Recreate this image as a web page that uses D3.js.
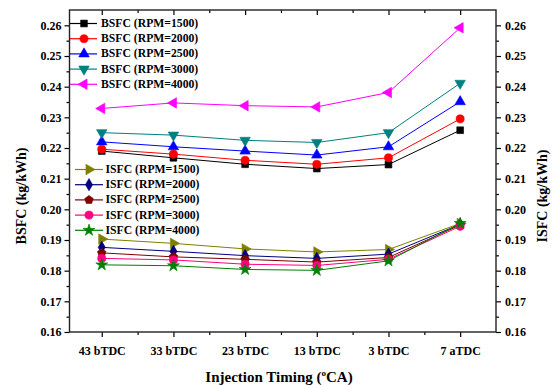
<!DOCTYPE html>
<html><head><meta charset="utf-8">
<script src="https://cdn.jsdelivr.net/npm/d3@7"></script>
<style>body{margin:0;background:#fff}svg{display:block}text{font-family:"Liberation Serif","Times New Roman",serif;font-weight:bold;fill:#000}</style>
</head><body><svg id="c" width="552" height="385"></svg>
<script>
const categories = ["43 bTDC","33 bTDC","23 bTDC","13 bTDC","3 bTDC","7 aTDC"];
const yTicks = [0.16,0.17,0.18,0.19,0.20,0.21,0.22,0.23,0.24,0.25,0.26];
const bsfc1500 = [0.2190,0.2168,0.2147,0.2133,0.2146,0.2258];
const bsfc2000 = [0.2196,0.2180,0.2160,0.2147,0.2168,0.2295];
const bsfc2500 = [0.2220,0.2204,0.2190,0.2177,0.2204,0.2351];
const bsfc3000 = [0.2250,0.2242,0.2225,0.2218,0.2250,0.2411];
const bsfc4000 = [0.2329,0.2347,0.2338,0.2334,0.2381,0.2592];
const isfc1500 = [0.1903,0.1889,0.1871,0.1861,0.1869,0.1954];
const isfc2000 = [0.1876,0.1863,0.1849,0.1840,0.1854,0.1951];
const isfc2500 = [0.1858,0.1845,0.1837,0.1828,0.1843,0.1949];
const isfc3000 = [0.1840,0.1835,0.1821,0.1817,0.1837,0.1945];
const isfc4000 = [0.1819,0.1816,0.1804,0.1801,0.1832,0.1954];
const bsfcNames = ["BSFC (RPM=1500)","BSFC (RPM=2000)","BSFC (RPM=2500)","BSFC (RPM=3000)","BSFC (RPM=4000)"];
const isfcNames = ["ISFC (RPM=1500)","ISFC (RPM=2000)","ISFC (RPM=2500)","ISFC (RPM=3000)","ISFC (RPM=4000)"];

const svg = d3.select("#c");
const L=69.5, R=496, T=10, B=332;
const x = d3.scaleLinear().domain([-0.45,5.5]).range([L,R]);
const y = d3.scaleLinear().domain([0.16,0.265]).range([B,T]);

const pentagon = {draw(ctx,size){const r=Math.sqrt(size/2.378);for(let i=0;i<5;i++){const a=-Math.PI/2+i*2*Math.PI/5;const px=r*Math.cos(a),py=r*Math.sin(a);i?ctx.lineTo(px,py):ctx.moveTo(px,py);}ctx.closePath();}};

const series = [
 {name:bsfcNames[0],vals:bsfc1500,color:"#000000",sym:d3.symbolSquare,size:46,rot:0},
 {name:bsfcNames[1],vals:bsfc2000,color:"#FF0000",sym:d3.symbolCircle,size:52,rot:0},
 {name:bsfcNames[2],vals:bsfc2500,color:"#0000FF",sym:d3.symbolTriangle,size:48,rot:0},
 {name:bsfcNames[3],vals:bsfc3000,color:"#008080",sym:d3.symbolTriangle,size:48,rot:180},
 {name:bsfcNames[4],vals:bsfc4000,color:"#FF00FF",sym:d3.symbolTriangle,size:48,rot:-90},
 {name:isfcNames[0],vals:isfc1500,color:"#808000",sym:d3.symbolTriangle,size:48,rot:90},
 {name:isfcNames[1],vals:isfc2000,color:"#000080",sym:d3.symbolDiamond,size:44,rot:0},
 {name:isfcNames[2],vals:isfc2500,color:"#800000",sym:pentagon,size:48,rot:0},
 {name:isfcNames[3],vals:isfc3000,color:"#FF0080",sym:d3.symbolCircle,size:52,rot:0},
 {name:isfcNames[4],vals:isfc4000,color:"#008000",sym:d3.symbolStar,size:44,rot:0}
];

// axes
const yMinor = d3.range(0.165,0.265,0.01);
const g = svg.append("g");
// left
g.append("g").attr("transform",`translate(${L},0)`).call(d3.axisLeft(y).tickValues(yMinor).tickSize(3).tickFormat("")).call(a=>a.select(".domain").remove());
g.append("g").attr("transform",`translate(${L},0)`).call(d3.axisLeft(y).tickValues(yTicks).tickSize(5).tickPadding(3).tickFormat(d3.format(".2f")))
 .call(a=>{a.select(".domain").remove();a.selectAll("text").style("font-size","12px");});
// right
g.append("g").attr("transform",`translate(${R},0)`).call(d3.axisRight(y).tickValues(yMinor).tickSize(3).tickFormat("")).call(a=>a.select(".domain").remove());
g.append("g").attr("transform",`translate(${R},0)`).call(d3.axisRight(y).tickValues(yTicks).tickSize(5).tickPadding(4).tickFormat(d3.format(".2f")))
 .call(a=>{a.select(".domain").remove();a.selectAll("text").style("font-size","12px");});
// bottom
const xIdx = d3.range(categories.length);
const xMinor = d3.range(-0.5,5.5,1).filter(v=>v>-0.45);
g.append("g").attr("transform",`translate(0,${B})`).call(d3.axisBottom(x).tickValues(xMinor).tickSize(3).tickFormat("")).call(a=>a.select(".domain").remove());
g.append("g").attr("transform",`translate(0,${B})`).call(d3.axisBottom(x).tickValues(xIdx).tickSize(5).tickPadding(9).tickFormat(i=>categories[i]))
 .call(a=>{a.select(".domain").remove();a.selectAll("text").style("font-size","12px");});
// top (inward ticks)
g.append("g").attr("transform",`translate(0,${T})`).call(d3.axisTop(x).tickValues(xMinor).tickSize(-3).tickFormat("")).call(a=>a.select(".domain").remove());
g.append("g").attr("transform",`translate(0,${T})`).call(d3.axisTop(x).tickValues(xIdx).tickSize(-5).tickFormat("")).call(a=>a.select(".domain").remove());
g.selectAll(".tick line").attr("stroke","#000").attr("stroke-width",1.2);
// frame
svg.append("rect").attr("x",L).attr("y",T).attr("width",R-L).attr("height",B-T).attr("fill","none").attr("stroke","#222").attr("stroke-width",1.4);

// titles
svg.append("text").attr("transform",`translate(21,196) rotate(-90)`).attr("text-anchor","middle").attr("dominant-baseline","central").style("font-size","14px").text("BSFC (kg/kWh)");
svg.append("text").attr("transform",`translate(542,196) rotate(-90)`).attr("text-anchor","middle").attr("dominant-baseline","central").style("font-size","14px").text("ISFC (kg/kWh)");
const xt = svg.append("text").attr("x",279).attr("y",382).attr("text-anchor","middle").style("font-size","15px");
xt.append("tspan").text("Injection Timing (");
xt.append("tspan").attr("dy",-6).style("font-size","9px").text("o");
xt.append("tspan").attr("dy",6).text("CA)");

// data
const line = d3.line().x((d,i)=>x(i)).y(d=>y(d));
const dataG = svg.append("g");
series.forEach(s=>{
  dataG.append("path").attr("d",line(s.vals)).attr("fill","none").attr("stroke",s.color).attr("stroke-width",1);
});
series.forEach(s=>{
  const sym = d3.symbol().type(s.sym).size(s.size);
  dataG.selectAll(null).data(s.vals).enter().append("path")
   .attr("d",sym).attr("transform",(d,i)=>`translate(${x(i)},${y(d)}) rotate(${s.rot})`)
   .attr("fill",s.color).attr("stroke",s.color).attr("stroke-width",0.6);
});

// legends
function legend(list, lx0, lx1, mx, tx, y0, dy){
  list.forEach((s,i)=>{
    const yy = y0 + i*dy;
    svg.append("line").attr("x1",lx0).attr("x2",lx1).attr("y1",yy).attr("y2",yy).attr("stroke",s.color).attr("stroke-width",1.2);
    svg.append("path").attr("d",d3.symbol().type(s.sym).size(s.size)()).attr("transform",`translate(${mx},${yy}) rotate(${s.rot})`).attr("fill",s.color).attr("stroke",s.color).attr("stroke-width",0.6);
    svg.append("text").attr("x",tx).attr("y",yy).attr("dominant-baseline","central").style("font-size","11.7px").text(s.name);
  });
}
legend(series.slice(0,5),70,97,84,101,23.5,15.2);
legend(series.slice(5),75,103,89,105.5,169.5,15.2);
</script></body></html>
